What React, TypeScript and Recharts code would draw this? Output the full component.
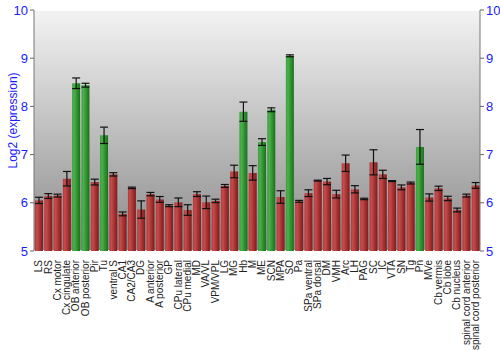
import React from "react";
import { BarChart, Bar, XAxis, YAxis, CartesianGrid, ErrorBar, Cell } from "recharts";

const categories = [
  "LS", "RS", "Cx motor", "Cx cingulate", "OB anterior", "OB posterior", "Pir", "Tu",
  "ventral S", "CA1", "CA2/CA3", "DG", "A anterior", "A posterior", "GP", "CPu lateral",
  "CPu medial", "MD", "VA/VL", "VPM/VPL", "LG", "MG", "Hb", "M", "ME", "SCN", "MPA", "SO",
  "Pa", "SPa ventral", "SPa dorsal", "DM", "VMH", "Arc", "LH", "PAG", "SC", "IC", "VTA",
  "SN", "Tg", "Pn", "MVe", "Cb vermis", "Cb lobe", "Cb nucleus", "spinal cord anterior",
  "spinal cord posterior",
];

const expression = [
  6.05, 6.14, 6.15, 6.5, 8.48, 8.44, 6.43, 7.4,
  6.59, 5.77, 6.31, 5.86, 6.18, 6.07, 5.94, 6.01,
  5.85, 6.18, 6.01, 6.04, 6.35, 6.65, 7.89, 6.62, 7.26, 7.93, 6.12, 9.05,
  6.03, 6.2, 6.46, 6.44, 6.18, 6.82, 6.28, 6.08, 6.84, 6.59, 6.45,
  6.32, 6.41, 7.16, 6.11, 6.3, 6.09, 5.85, 6.15,
  6.36,
];

const errors = [
  0.065, 0.05, 0.03, 0.15, 0.11, 0.04, 0.06, 0.17,
  0.035, 0.04, 0.015, 0.18, 0.035, 0.06, 0.02, 0.09,
  0.11, 0.05, 0.13, 0.035, 0.03, 0.13, 0.2, 0.15, 0.07, 0.04, 0.13, 0.02,
  0.02, 0.07, 0.01, 0.065, 0.08, 0.17, 0.075, 0.015, 0.26, 0.085, 0.01,
  0.05, 0.02, 0.36, 0.075, 0.045, 0.045, 0.04, 0.03,
  0.06,
];

const highlighted = ["OB anterior", "OB posterior", "Tu", "Hb", "ME", "SCN", "SO", "Pn"];

const yTicks = [5, 6, 7, 8, 9, 10];

const data = categories.map((name, i) => ({
  name,
  value: expression[i],
  err: errors[i],
}));

const FONT = "'Liberation Sans', Arial, sans-serif";

const XTick = (props: any) => {
  const { x, y, payload } = props;
  return (
    <text
      x={x}
      y={y}
      transform={`rotate(-90, ${x}, ${y})`}
      textAnchor="end"
      dy="0.36em"
      dx={-1}
      fontSize={10}
      fill="#222"
      fontFamily={FONT}
    >
      {payload.value}
    </text>
  );
};

export default function App() {
  return (
    <div style={{ position: "absolute", left: 0, top: 0, width: 500, height: 350, background: "#fff" }}>
      <svg width={0} height={0} style={{ position: "absolute" }}>
        <defs>
          <linearGradient id="bgGrad" x1="0" y1="0" x2="0" y2="1">
            <stop offset="0%" stopColor="#f3f3f3" />
            <stop offset="100%" stopColor="#8a8a8a" />
          </linearGradient>
          <linearGradient id="redGrad" x1="0" y1="0" x2="1" y2="0">
            <stop offset="0%" stopColor="#b23a3a" />
            <stop offset="25%" stopColor="#c44c4c" />
            <stop offset="60%" stopColor="#a83232" />
            <stop offset="100%" stopColor="#7e1c1c" />
          </linearGradient>
          <linearGradient id="greenGrad" x1="0" y1="0" x2="1" y2="0">
            <stop offset="0%" stopColor="#3a9c3a" />
            <stop offset="25%" stopColor="#4cb04c" />
            <stop offset="60%" stopColor="#2f942f" />
            <stop offset="100%" stopColor="#1e6e1e" />
          </linearGradient>
        </defs>
      </svg>
      <BarChart
        width={500}
        height={350}
        data={data}
        margin={{ top: 10, right: 0, left: 0, bottom: 0 }}
        barCategoryGap={1}
        barSize={8}
      >
        <CartesianGrid
          vertical={false}
          stroke="#ffffff"
          strokeWidth={2}
          fill="url(#bgGrad)"
          fillOpacity={1}
        />
        <XAxis
          dataKey="name"
          interval={0}
          height={99}
          tick={<XTick />}
          tickLine={false}
          axisLine={false}
        />
        <YAxis
          yAxisId="left"
          orientation="left"
          domain={[5, 10]}
          ticks={yTicks}
          allowDataOverflow
          width={34}
          tick={{ fill: "#1a1aff", fontSize: 13, fontFamily: FONT }}
          tickSize={4}
          tickLine={{ stroke: "#666" }}
          axisLine={{ stroke: "#777" }}
          label={{
            value: "Log2 (expression)",
            angle: -90,
            position: "insideLeft",
            offset: 13,
            dy: 38,
            fill: "#1a1aff",
            fontSize: 12,
            fontFamily: FONT,
          }}
        />
        <YAxis
          yAxisId="right"
          orientation="right"
          domain={[5, 10]}
          ticks={yTicks}
          allowDataOverflow
          width={20}
          tick={{ fill: "#1a1aff", fontSize: 13, fontFamily: FONT }}
          tickSize={4}
          tickLine={{ stroke: "#666" }}
          axisLine={{ stroke: "#777" }}
        />
        <Bar dataKey="value" yAxisId="left" isAnimationActive={false}>
          {data.map((d) => (
            <Cell key={d.name} fill={highlighted.includes(d.name) ? "url(#greenGrad)" : "url(#redGrad)"} />
          ))}
          <ErrorBar dataKey="err" width={4} stroke="#111" strokeWidth={1.2} />
        </Bar>
      </BarChart>
    </div>
  );
}
